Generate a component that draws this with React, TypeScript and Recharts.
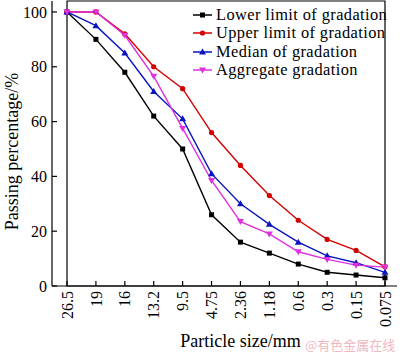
import * as React from "react";
import { LineChart, Line, XAxis, YAxis, Label, ReferenceArea } from "recharts";

// ----- Data -----
const sizes = ["26.5", "19", "16", "13.2", "9.5", "4.75", "2.36", "1.18", "0.6", "0.3", "0.15", "0.075"];
const lowerLimit = [100, 90, 78, 62, 50, 26, 16, 12, 8, 5, 4, 3];
const upperLimit = [100, 100, 92, 80, 72, 56, 44, 33, 24, 17, 13, 7];
const median = [100, 95, 85, 71, 61, 41, 30, 22.5, 16, 11, 8.5, 5];
const aggregate = [100, 100, 91.5, 76.5, 57.5, 38.5, 23.5, 19, 12.5, 9.7, 7.6, 6.9];
const yTicks = [0, 20, 40, 60, 80, 100];

const data = sizes.map((s, i) => ({
  size: s,
  lower: lowerLimit[i],
  upper: upperLimit[i],
  median: median[i],
  aggregate: aggregate[i],
}));

const FONT = "'Liberation Serif', 'Times New Roman', serif";

const series = [
  { key: "lower", name: "Lower limit of gradation", color: "#000000", shape: "square" },
  { key: "upper", name: "Upper limit of gradation", color: "#d40000", shape: "circle" },
  { key: "median", name: "Median of gradation", color: "#0a14c0", shape: "up" },
  { key: "aggregate", name: "Aggregate gradation", color: "#e030e0", shape: "down" },
];

function marker(shape: string, cx: number, cy: number, color: string, key?: string) {
  if (shape === "square") return <rect key={key} x={cx - 2.5} y={cy - 2.5} width={5} height={5} fill={color} />;
  if (shape === "circle") return <circle key={key} cx={cx} cy={cy} r={2.6} fill={color} />;
  if (shape === "up")
    return <polygon key={key} points={`${cx},${cy - 3.5} ${cx - 3.5},${cy + 2.5} ${cx + 3.5},${cy + 2.5}`} fill={color} />;
  return <polygon key={key} points={`${cx},${cy + 3.5} ${cx - 3.5},${cy - 2.5} ${cx + 3.5},${cy - 2.5}`} fill={color} />;
}

const makeDot = (shape: string, color: string) => (props: any) => {
  const { cx, cy, index } = props;
  if (cx == null || cy == null) return <g key={index} />;
  return marker(shape, cx, cy, color, `d-${index}`);
};

const XTick = (props: any) => {
  const { x, y, payload } = props;
  const ty = y + 8;
  return (
    <text
      x={x}
      y={ty}
      dy="0.35em"
      transform={`rotate(-90, ${x}, ${ty})`}
      textAnchor="end"
      fontFamily={FONT}
      fontSize={16}
      fill="#000"
    >
      {payload.value}
    </text>
  );
};

const YTick = (props: any) => {
  const { x, y, payload } = props;
  return (
    <text x={x - 8} y={y} dy="0.35em" textAnchor="end" fontFamily={FONT} fontSize={16} fill="#000">
      {payload.value}
    </text>
  );
};

const LegendBox = () => (
  <div
    style={{
      position: "absolute",
      left: 190,
      top: 6,
      fontFamily: FONT,
      fontSize: 16.4,
      letterSpacing: 0.4,
      lineHeight: "18.3px",
      color: "#000",
      whiteSpace: "nowrap",
    }}
  >
    {series.map((s) => (
      <div key={s.key} style={{ display: "flex", alignItems: "center", height: 18.3 }}>
        <svg width={24} height={10} style={{ marginRight: 2 }}>
          <line x1={3} y1={5} x2={22} y2={5} stroke={s.color} strokeWidth={1.5} />
          {marker(s.shape, 12.5, 5, s.color)}
        </svg>
        <span>{s.name}</span>
      </div>
    ))}
  </div>
);

export default function App() {
  return (
    <div style={{ position: "absolute", left: 0, top: 0, width: 400, height: 353, background: "#fff" }}>
      <LineChart width={400} height={353} data={data} margin={{ top: 1, right: 3, bottom: 0, left: 0 }}>
        <ReferenceArea y1={0} y2={104} fill="none" stroke="#000" strokeWidth={1.2} ifOverflow="visible" />
        <XAxis
          dataKey="size"
          height={67}
          interval={0}
          tick={<XTick />}
          tickSize={-5}
          padding={{ left: 15, right: 12 }}
          stroke="#000"
          strokeWidth={1.2}
        >
          <Label
            content={(p: any) => (
              <text
                x={p.viewBox.x + p.viewBox.width / 2 + 16}
                y={p.viewBox.y + 61}
                textAnchor="middle"
                fontFamily={FONT}
                fontSize={18}
                fill="#000"
              >
                Particle size/mm
              </text>
            )}
          />
        </XAxis>
        <YAxis
          domain={[0, 104]}
          ticks={yTicks}
          width={52}
          tick={<YTick />}
          tickSize={-5}
          stroke="#000"
          strokeWidth={1.2}
        >
          <Label
            content={(p: any) => {
              const cx = 12;
              const cy = p.viewBox.y + p.viewBox.height / 2 + 8;
              return (
                <text
                  x={cx}
                  y={cy}
                  dy="0.35em"
                  transform={`rotate(-90, ${cx}, ${cy})`}
                  textAnchor="middle"
                  fontFamily={FONT}
                  fontSize={18}
                  fill="#000"
                >
                  Passing percentage/%
                </text>
              );
            }}
          />
        </YAxis>
        {series.map((s) => (
          <Line
            key={s.key}
            type="linear"
            dataKey={s.key}
            name={s.name}
            stroke={s.color}
            strokeWidth={1.4}
            dot={makeDot(s.shape, s.color)}
            activeDot={false}
            isAnimationActive={false}
          />
        ))}
      </LineChart>
      <LegendBox />
      <span
        style={{
          position: "absolute",
          left: 305,
          top: 335,
          fontFamily: "'Noto Sans CJK SC', sans-serif",
          fontSize: 13,
          color: "#f0b8c0",
          whiteSpace: "nowrap",
        }}
      >
        @有色金属在线
      </span>
    </div>
  );
}
